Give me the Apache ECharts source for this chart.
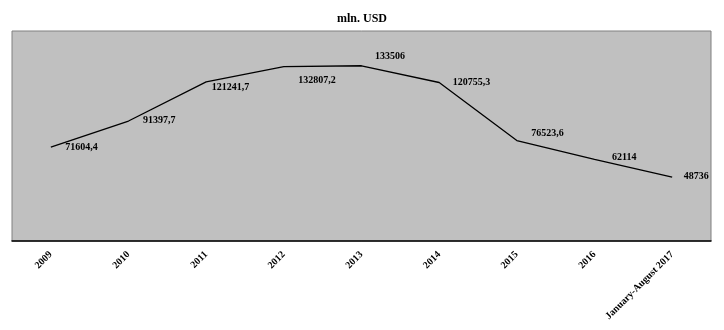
<!DOCTYPE html>
<html>
<head>
<meta charset="utf-8">
<script src="https://cdn.jsdelivr.net/npm/echarts@6/dist/echarts.min.js"></script>
<style>html,body{margin:0;padding:0;background:#fff}#c{width:724px;height:330px}</style>
</head>
<body>
<div id="c"></div>
<script>
const categories = ['2009','2010','2011','2012','2013','2014','2015','2016','January-August 2017'];
const values = [71604.4, 91397.7, 121241.7, 132807.2, 133506, 120755.3, 76523.6, 62114, 48736];
const labelTexts = ['71604,4','91397,7','121241,7','132807,2','133506','120755,3','76523,6','62114','48736'];
const labelOffsets = [[15,1],[15,0],[6,6],[15,14],[14,-9],[14,0],[15,-7],[18,-2],[12,0]];

const font = '"Liberation Serif","Times New Roman",serif';
const chart = echarts.init(document.getElementById('c'), null, {renderer:'canvas'});
chart.setOption({
  animation:false,
  backgroundColor:'#ffffff',
  title:{text:'mln. USD', left:'center', top:8,
    textStyle:{fontFamily:font, fontWeight:'bold', fontSize:12, color:'#000'}},
  grid:{left:12, right:13, top:31, bottom:89, show:true, backgroundColor:'#c0c0c0',
    borderColor:'#808080', borderWidth:1, containLabel:false},
  xAxis:{type:'category', data:categories, boundaryGap:true,
    axisLine:{lineStyle:{color:'#000', width:1.5}},
    axisTick:{show:false},
    axisLabel:{rotate:45, interval:0, margin:12, fontFamily:font, fontWeight:'bold', fontSize:10, color:'#000'}},
  yAxis:{type:'value', min:0, max:160000, show:false, splitLine:{show:false}},
  series:[{
    type:'line', showSymbol:true, symbol:'circle', symbolSize:1,
    itemStyle:{color:'rgba(0,0,0,0)', borderWidth:0},
    lineStyle:{color:'#000', width:1.3},
    data: values.map((v,i)=>({value:v, label:{show:true,
      position:[labelOffsets[i][0], labelOffsets[i][1]], align:'left', verticalAlign:'middle',
      formatter:labelTexts[i],
      fontFamily:font, fontWeight:'bold', fontSize:10, color:'#000'}})),
    label:{show:true, fontFamily:font, fontWeight:'bold', fontSize:10, color:'#000'},
    labelLayout:{hideOverlap:false}
  }]
});
</script>
</body>
</html>
